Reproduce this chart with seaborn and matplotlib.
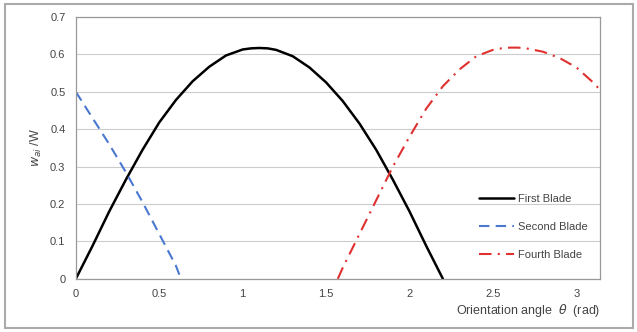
#!/usr/bin/env python3
import numpy as np
import pandas as pd
import seaborn as sns
import matplotlib.pyplot as plt
from matplotlib.ticker import MultipleLocator

# values
first_theta = [0.0, 0.1, 0.2, 0.3, 0.4, 0.5, 0.6, 0.7, 0.8, 0.9, 1.0, 1.05,
               1.1, 1.15, 1.2, 1.3, 1.4, 1.5, 1.6, 1.7, 1.8, 1.9, 2.0, 2.1,
               2.2]
first_w = [0.0, 0.088, 0.18, 0.265, 0.345, 0.418, 0.478, 0.528, 0.567, 0.597,
           0.613, 0.616, 0.617, 0.616, 0.612, 0.595, 0.565, 0.525, 0.475,
           0.415, 0.345, 0.265, 0.18, 0.088, 0.0]

second_theta = [0.0, 0.1, 0.2, 0.3, 0.4, 0.5, 0.6, 0.63]
second_w = [0.5, 0.43, 0.36, 0.285, 0.205, 0.12, 0.035, 0.0]

fourth_theta = [1.57, 1.6, 1.7, 1.8, 1.9, 2.0, 2.1, 2.2, 2.3, 2.4, 2.5, 2.55,
                2.6, 2.65, 2.7, 2.8, 2.9, 3.0, 3.1, 3.1416]
fourth_w = [0.0, 0.03, 0.12, 0.21, 0.3, 0.38, 0.455, 0.515, 0.56, 0.595,
            0.612, 0.616, 0.618, 0.618, 0.616, 0.607, 0.59, 0.565, 0.525,
            0.505]

sns.set_style("white")
plt.rcParams['font.family'] = ['Liberation Sans', 'DejaVu Sans']

fig = plt.figure(figsize=(6.37, 3.32), dpi=100)
ax = fig.add_axes([0.119, 0.16, 0.823, 0.789])

sns.lineplot(x=first_theta, y=first_w, ax=ax, color='black', lw=1.8,
             label='First Blade')
sns.lineplot(x=second_theta, y=second_w, ax=ax, color='#4a78d0', lw=1.5,
             label='Second Blade', linestyle=(0, (5, 3)))
sns.lineplot(x=fourth_theta, y=fourth_w, ax=ax, color='#e03030', lw=1.5,
             label='Fourth Blade', linestyle=(0, (6, 3, 1, 3)))

ax.set_xlim(0, np.pi)
ax.set_ylim(0, 0.7)
ax.xaxis.set_minor_locator(MultipleLocator(0.1))
ax.yaxis.set_minor_locator(MultipleLocator(0.02))
ax.set_xticks([0, 0.5, 1, 1.5, 2, 2.5, 3])
ax.set_xticklabels(['0', '0.5', '1', '1.5', '2', '2.5', '3'])
ax.set_yticks([0, 0.1, 0.2, 0.3, 0.4, 0.5, 0.6, 0.7])
ax.set_yticklabels(['0', '0.1', '0.2', '0.3', '0.4', '0.5', '0.6', '0.7'])
ax.tick_params(axis='both', which='major', direction='out', length=4,
               width=0.8, color='#888888', labelsize=8, labelcolor='#444444')
ax.tick_params(axis='both', which='minor', direction='out', length=2,
               width=0.6, color='#999999')
ax.yaxis.grid(True, which='major', color='#cccccc', lw=0.8)
for s in ax.spines.values():
    s.set_color('#999999')
    s.set_linewidth(0.9)

ax.set_xlabel(r'Orientation angle  $\theta$  (rad)', fontsize=9,
              color='#444444', loc='right', labelpad=2)
ax.set_ylabel(r'$w_{ai}$ /W', fontsize=9, color='#444444', labelpad=4)

leg = ax.legend(loc='lower right', bbox_to_anchor=(0.995, 0.035),
                frameon=False, fontsize=8, handlelength=3.2,
                labelspacing=1.6, handletextpad=0.3)
for t in leg.get_texts():
    t.set_color('#444444')

# grey border round the whole figure
fig.patches.append(plt.Rectangle((0.008, 0.012), 0.985, 0.975,
                                 transform=fig.transFigure, fill=False,
                                 edgecolor='#aaaaaa', lw=1.5))

plt.savefig('out.png', dpi=100)
plt.close()
